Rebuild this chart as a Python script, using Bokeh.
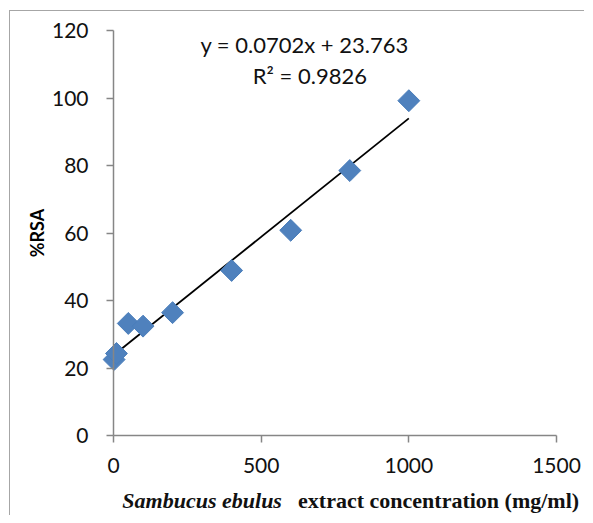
import math
from bokeh.plotting import figure
from bokeh.models import Label, FixedTicker
from bokeh.embed import file_html
from bokeh.resources import INLINE

# Data
concentration = [2, 10, 50, 100, 200, 400, 600, 800, 1000]
rsa = [22.5, 24.3, 33.2, 32.4, 36.4, 48.9, 60.8, 78.5, 99.2]
slope = 0.0702
intercept = 23.763
r_squared = 0.9826
x_ticks = [0, 500, 1000, 1500]
y_ticks = [0, 20, 40, 60, 80, 100, 120]
x_axis_max = 1500
y_axis_max = 120

W, H = 575, 505
p = figure(width=W, height=H, output_backend="svg", toolbar_location=None,
           x_range=(-348.8, 1598.2), y_range=(-24.0, 125.63),
           min_border_left=0, min_border_right=0, min_border_top=0, min_border_bottom=0)
p.outline_line_color = None
p.xgrid.visible = False
p.ygrid.visible = False
p.background_fill_color = "white"
p.border_fill_color = "white"
p.styles = {"margin-left": "9px", "margin-top": "10px",
            "border-left": "1px solid #a6a6a6", "border-top": "1px solid #a6a6a6"}

axis_col = "#868686"
for ax in (p.xaxis[0], p.yaxis[0]):
    ax.axis_line_color = axis_col
    ax.major_tick_line_color = axis_col
    ax.major_tick_out = 7
    ax.major_tick_in = 0
    ax.minor_tick_line_color = None
    ax.major_label_text_font = "Lato"
    ax.major_label_text_font_size = "21px"
    ax.major_label_text_color = "#111111"
    ax.axis_line_width = 1.5
    ax.major_tick_line_width = 1.5
    ax.fixed_location = 0

p.xaxis.ticker = FixedTicker(ticks=x_ticks)
p.yaxis.ticker = FixedTicker(ticks=y_ticks)
p.xaxis.bounds = (0, x_axis_max)
p.yaxis.bounds = (0, y_axis_max)
p.xaxis.major_label_standoff = 15
p.yaxis.major_label_standoff = 18

p.yaxis.axis_label = "%RSA"
p.yaxis.axis_label_text_font = "Lato"
p.yaxis.axis_label_text_font_style = "bold"
p.yaxis.axis_label_text_font_size = "18px"
p.yaxis.axis_label_text_color = "black"
p.yaxis.axis_label_standoff = 1

# Trend line
xs_fit = [0, max(concentration)]
ys_fit = [slope * x + intercept for x in xs_fit]
p.line(xs_fit, ys_fit, line_color="black", line_width=1.8)

# Points
p.scatter(concentration, rsa, marker="square", angle=math.pi / 4, size=15.5,
          fill_color="#4F81BD", line_color="#4A7EBB")

# Equation text
eq_font = dict(text_font="Lato", text_font_size="22px", text_align="center",
               text_baseline="middle", text_color="#111111")
p.add_layout(Label(x=647, y=115.9, text="y = %.4fx + %.3f" % (slope, intercept), **eq_font))
p.add_layout(Label(x=665, y=106.6, text="R² = %.4f" % r_squared, **eq_font))

# X axis title (mixed styles)
p.add_layout(Label(x=30, y=-19.3, text="Sambucus ebulus",
                   text_font="Liberation Serif", text_font_style="bold italic",
                   text_font_size="22px", text_baseline="middle", text_color="#111111"))
p.add_layout(Label(x=625, y=-19.3, text="extract concentration (mg/ml)",
                   text_font="Liberation Serif", text_font_style="bold",
                   text_font_size="22px", text_baseline="middle", text_color="#111111"))

open("out.html", "w").write(file_html(p, INLINE))
